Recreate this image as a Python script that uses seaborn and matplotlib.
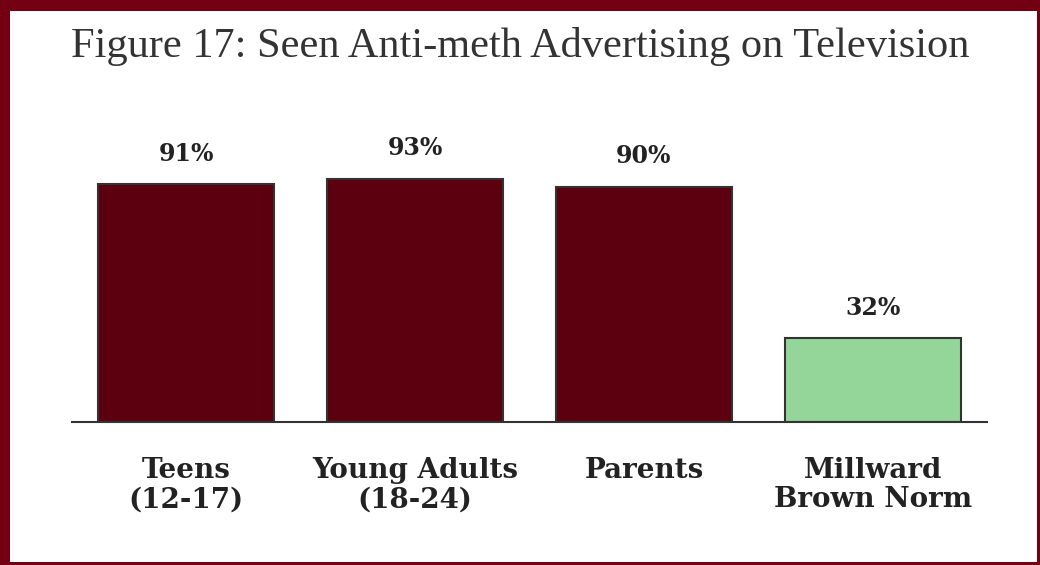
import matplotlib
matplotlib.use("Agg")
import matplotlib.pyplot as plt
from matplotlib.patches import Rectangle
import seaborn as sns

categories = ["Teens\n(12-17)", "Young Adults\n(18-24)", "Parents", "Millward\nBrown Norm"]
values = [91, 93, 90, 32]
bar_colors = ["#5c000f", "#5c000f", "#5c000f", "#94d59a"]
title = "Figure 17: Seen Anti-meth Advertising on Television"

sns.set_style("white")
plt.rcParams["font.family"] = ["Liberation Serif", "DejaVu Serif"]

fig = plt.figure(figsize=(10.4, 5.65), dpi=100)
ax = fig.add_axes([72 / 1040, 1 - 422 / 565, 915 / 1040, 287.6 / 565])

sns.barplot(x=categories, y=values, hue=categories, palette=bar_colors, legend=False,
            width=0.77, saturation=1, edgecolor="#333333", linewidth=1.5, ax=ax)

ax.set_xlim(-0.5, 3.5)
ax.set_ylim(0, 110)
ax.set_xlabel("")
ax.set_ylabel("")
ax.set_yticks([])
for s in ["top", "left", "right"]:
    ax.spines[s].set_visible(False)
ax.spines["bottom"].set_color("#333333")
ax.spines["bottom"].set_linewidth(1.5)
ax.tick_params(axis="x", length=0, pad=25)
for lab in ax.get_xticklabels():
    lab.set_family("DejaVu Serif")
    lab.set_fontsize(20)
    lab.set_fontweight("bold")
    lab.set_color("#222222")
    lab.set_linespacing(1.12)

for i, v in enumerate(values):
    ax.annotate(f"{v}%", (i, v), xytext=(0, 22), textcoords="offset points",
                ha="center", va="center", fontsize=17, fontweight="bold",
                family="DejaVu Serif", color="#222222", annotation_clip=False)

fig.text(0.5, 1 - 46 / 565, title, ha="center", va="center", fontsize=30.5, color="#333333")

# dark red frame around the figure
frame = "#720012"
W, H = 1040, 565
for x0, y0, w, h in [(0, H - 11, W, 11), (0, 0, 10, H), (W - 3, 0, 3, H), (0, 0, W, 3)]:
    fig.add_artist(Rectangle((x0 / W, y0 / H), w / W, h / H, transform=fig.transFigure,
                             facecolor=frame, edgecolor="none"))

fig.savefig("out.png", dpi=100)
